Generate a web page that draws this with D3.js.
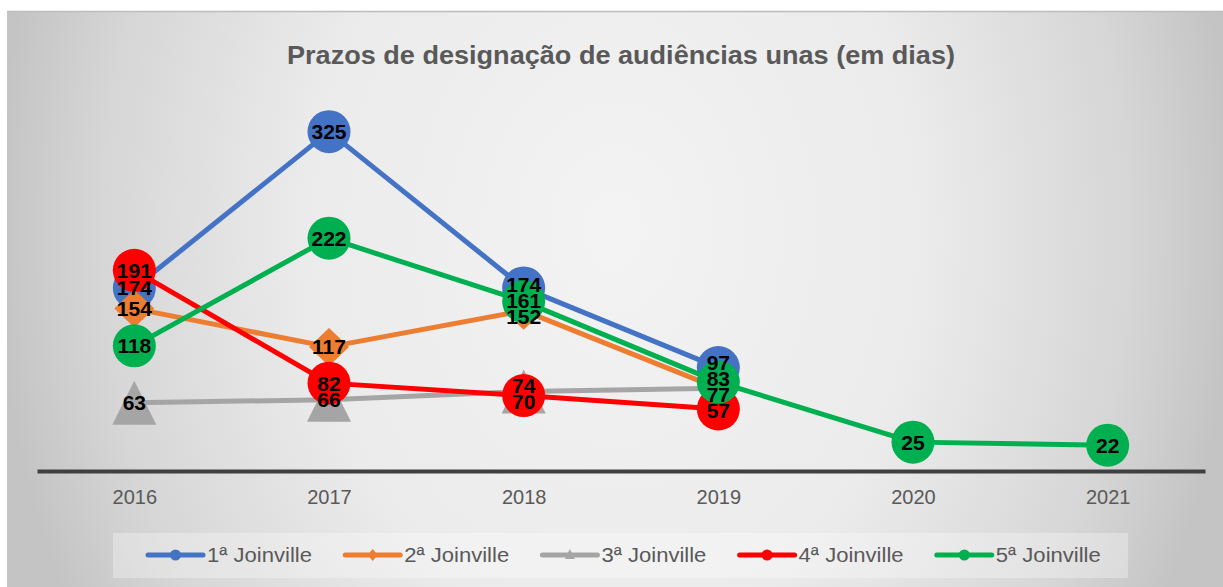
<!DOCTYPE html>
<html><head><meta charset="utf-8">
<script src="https://cdn.jsdelivr.net/npm/d3@7"></script>
<style>body{margin:0;background:#fff}svg{display:block}</style></head>
<body><svg id="c" width="1223" height="587"></svg>
<script>
const years = ["2016","2017","2018","2019","2020","2021"];
const seriesNames = ["1ª Joinville","2ª Joinville","3ª Joinville","4ª Joinville","5ª Joinville"];
const s1 = [174,325,174,97,null,null];
const s2 = [154,117,152,77,null,null];
const s3 = [63,66,74,77,null,null];
const s4 = [191,82,70,57,null,null];
const s5 = [118,222,161,83,25,22];
const seriesValues = [s1,s2,s3,s4,s5];
const colors = ["#4472C4","#ED7D31","#A5A5A5","#FF0000","#00B050"];
const markers = ["circle","diamond","triangle","circle","circle"];
const title = "Prazos de designação de audiências unas (em dias)";

const svg = d3.select("#c");
const defs = svg.append("defs");
const grad = defs.append("radialGradient").attr("id","bg")
  .attr("gradientUnits","userSpaceOnUse")
  .attr("cx",615).attr("cy",230).attr("r",620)
  .attr("gradientTransform","translate(615,230) scale(1,1.3) translate(-615,-230)");
[[0,"#f3f3f3"],[0.5,"#ebebeb"],[0.83,"#d6d6d6"],[1,"#c4c4c4"]].forEach(([o,c])=>
  grad.append("stop").attr("offset",o).attr("stop-color",c));

svg.append("rect").attr("x",7).attr("y",11).attr("width",1216).attr("height",576).attr("fill","url(#bg)");
svg.append("line").attr("x1",7).attr("x2",1223).attr("y1",11.5).attr("y2",11.5).attr("stroke","#bdbdbd").attr("stroke-width",1.5);

// title
svg.append("text").attr("x",621).attr("y",64).attr("text-anchor","middle")
  .attr("font-family","'Liberation Sans',Arial,sans-serif").attr("font-weight","bold")
  .attr("font-size",26).attr("fill","#595959")
  .attr("textLength",668).attr("lengthAdjust","spacingAndGlyphs").text(title);

const x = d3.scalePoint().domain(years).range([37,1205]).padding(0.5);
const y = d3.scaleLinear().domain([0,350]).range([468,468-350*1.035]);

// axis
const xAxis = d3.axisBottom(x).tickSize(0).tickPadding(0);
const ax = svg.append("g").attr("transform",`translate(0,${y(0)+3})`).call(xAxis);
ax.select(".domain").attr("stroke","#404040").attr("stroke-width",4);
ax.selectAll(".tick text").attr("font-family","'Liberation Sans',Arial,sans-serif")
  .attr("font-size",20).attr("fill","#595959").attr("dy",0).attr("y",33);

function markerPath(type,cx,cy){
  if(type==="diamond") return `M${cx},${cy-19}L${cx+20},${cy}L${cx},${cy+19}L${cx-20},${cy}Z`;
  if(type==="triangle") return `M${cx},${cy-22}L${cx+22},${cy+22}L${cx-22},${cy+22}Z`;
  return null;
}

seriesValues.forEach((vals,i)=>{
  const pts = years.map((yr,j)=>({yr,v:vals[j]})).filter(d=>d.v!==null);
  const line = d3.line().x(d=>x(d.yr)).y(d=>y(d.v));
  svg.append("path").datum(pts).attr("d",line).attr("fill","none")
    .attr("stroke",colors[i]).attr("stroke-width",5).attr("stroke-linejoin","round");
  const g = svg.append("g");
  pts.forEach(d=>{
    if(markers[i]==="circle"){
      g.append("circle").attr("cx",x(d.yr)).attr("cy",y(d.v)).attr("r",21.5).attr("fill",colors[i]);
    } else {
      g.append("path").attr("d",markerPath(markers[i],x(d.yr),y(d.v))).attr("fill",colors[i]);
    }
  });
});

// data labels, dodged vertically per year so they do not collide
const gap = 16;
years.forEach((yr,j)=>{
  const seen = new Set();
  const labs = [];
  seriesValues.forEach(vals=>{
    const v = vals[j];
    if(v===null || seen.has(v)) return;
    seen.add(v);
    labs.push({v, y:y(v)});
  });
  labs.sort((a,b)=>a.y-b.y);
  for(let it=0; it<200; it++){
    let moved=false;
    for(let k=0;k<labs.length-1;k++){
      const d = labs[k+1].y - labs[k].y;
      if(d < gap-0.01){
        const push = (gap-d)/2;
        labs[k].y -= push; labs[k+1].y += push; moved=true;
      }
    }
    if(!moved) break;
  }
  labs.forEach(l=>{
    svg.append("text").attr("x",x(yr)).attr("y",l.y).attr("dy","0.36em")
      .attr("text-anchor","middle").attr("font-family","'Liberation Sans',Arial,sans-serif")
      .attr("font-weight","bold").attr("font-size",21).attr("fill","#000").text(l.v);
  });
});

// legend
svg.append("rect").attr("x",113).attr("y",533).attr("width",1015).attr("height",45)
  .attr("fill","#ffffff").attr("fill-opacity",0.3);
const legStart = 148, legStep = 197.2;
seriesNames.forEach((name,i)=>{
  const lx = legStart + i*legStep, ly = 555;
  svg.append("line").attr("x1",lx).attr("x2",lx+55).attr("y1",ly).attr("y2",ly)
    .attr("stroke",colors[i]).attr("stroke-width",5).attr("stroke-linecap","round");
  const cx = lx+27.5;
  if(markers[i]==="circle") svg.append("circle").attr("cx",cx).attr("cy",ly).attr("r",5.5).attr("fill",colors[i]);
  else if(markers[i]==="diamond") svg.append("path").attr("d",`M${cx},${ly-6}L${cx+5},${ly}L${cx},${ly+6}L${cx-5},${ly}Z`).attr("fill",colors[i]);
  else svg.append("path").attr("d",`M${cx},${ly-6}L${cx+5},${ly+4}L${cx-5},${ly+4}Z`).attr("fill",colors[i]);
  svg.append("text").attr("x",lx+59).attr("y",ly+7).attr("font-family","'Liberation Sans',Arial,sans-serif")
    .attr("font-size",20).attr("fill","#595959").attr("textLength",105).attr("lengthAdjust","spacingAndGlyphs").text(name);
});
</script></body></html>
